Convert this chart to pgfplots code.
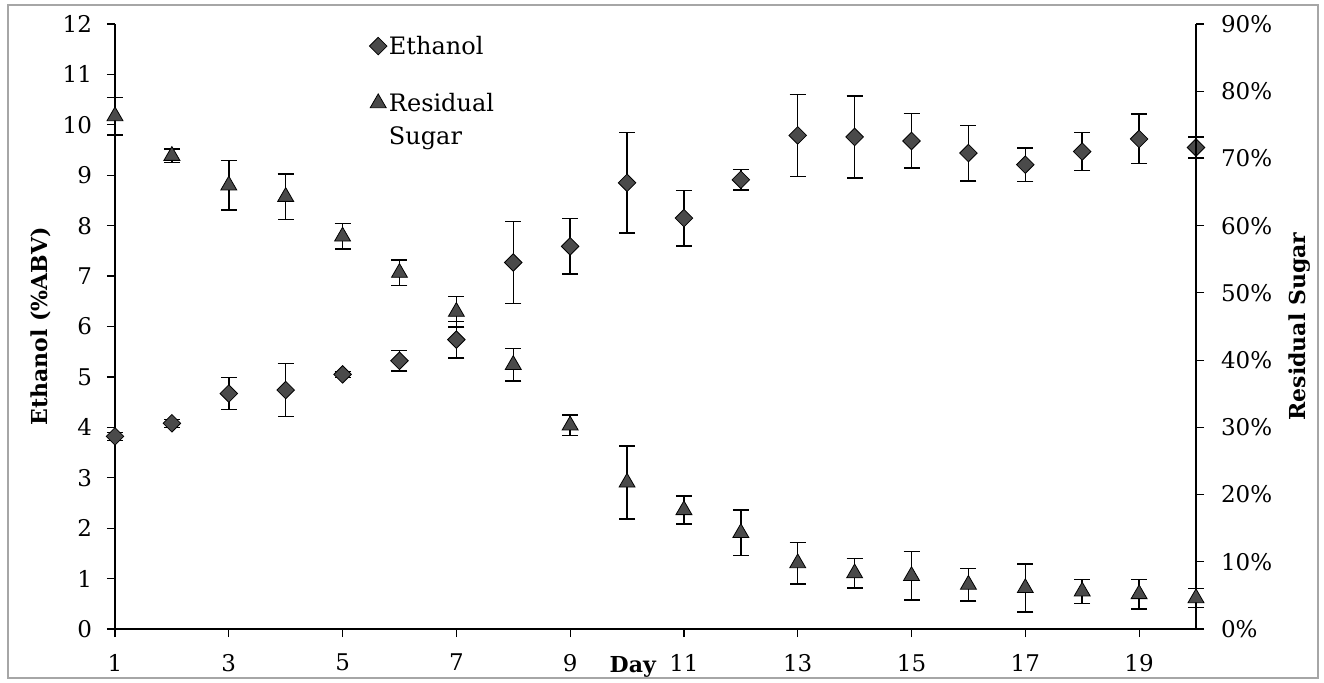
\documentclass[border=0pt]{standalone}
\usepackage{pgfplots}
\pgfplotsset{compat=1.18}
\usepackage{pgfplotstable}
\usepackage{fontspec}
\setmainfont{DejaVu Serif}

% day, mean, error
\pgfplotstableread{
day ethanol err
1  3.82 0.08
2  4.08 0.08
3  4.67 0.32
4  4.74 0.53
5  5.05 0.06
6  5.32 0.20
7  5.74 0.36
8  7.27 0.81
9  7.59 0.55
10 8.85 1.00
11 8.15 0.55
12 8.91 0.20
13 9.79 0.81
14 9.76 0.81
15 9.68 0.54
16 9.44 0.55
17 9.21 0.33
18 9.47 0.38
19 9.72 0.49
20 9.55 0.21
}\ethanoldata

\pgfplotstableread{
day sugar err
1  76.3 2.8
2  70.4 1.0
3  66.0 3.7
4  64.3 3.4
5  58.4 1.9
6  53.0 1.9
7  47.2 2.3
8  39.3 2.4
9  30.3 1.5
10 21.8 5.4
11 17.7 2.1
12 14.3 3.4
13  9.8 3.1
14  8.3 2.2
15  7.9 3.6
16  6.6 2.4
17  6.1 3.6
18  5.6 1.8
19  5.2 2.2
20  4.6 1.4
}\sugardata

\definecolor{markfill}{HTML}{4A4A4A}

\pgfplotsset{
  common/.style={
    scale only axis,
    width=540.5pt, height=302.5pt,
    xmin=1, xmax=20,
    tick align=outside,
    major tick length=4pt,
    tick style={black, line width=0.6pt},
    axis line style={black, line width=0.6pt},
    /pgf/number format/assume math mode=true,
    tick label style={font=\fontsize{11.5}{13}\selectfont},
    label style={font=\bfseries\fontsize{11}{13}\selectfont},
    clip=false,
  },
  ebar/.style={
    error bars/.cd, y dir=both, y explicit,
    error bar style={black, line width=0.75pt},
    error mark options={rotate=90, mark size=4pt, black, line width=0.75pt},
  },
  ethmark/.style={only marks, mark=square*, mark size=3.1pt,
    mark options={rotate=45, fill=markfill, draw=black, line width=0.4pt}},
  sugmark/.style={only marks, mark=triangle*, mark size=4.6pt,
    mark options={fill=markfill, draw=black, line width=0.4pt}},
}

\begin{document}
\begin{tikzpicture}
\useasboundingbox (-57.5pt,-26.5pt) rectangle (604.5pt,314.5pt);
\draw[gray!70, line width=1pt] (-53.5pt,-24.5pt) rectangle (601.5pt,312pt);

% ethanol, left axis
\begin{axis}[common,
  axis x line*=bottom, axis y line*=left,
  ymin=0, ymax=12, ytick={0,1,...,12},
  xtick={1,3,...,19},
  xticklabel style={yshift=-5pt},
  yticklabel style={xshift=-4pt},
  ylabel={Ethanol (\%ABV)},
  ylabel style={at={(axis description cs:-0.069,0.5)}, anchor=center},
  xlabel={Day},
  xlabel style={at={(axis description cs:0.479,0)}, anchor=base, yshift=-21.5pt},
]
\addplot[ethmark, ebar] table[x=day, y=ethanol, y error=err] {\ethanoldata};
\end{axis}

% residual sugar, right axis
\begin{axis}[common,
  axis x line=none, axis y line*=right,
  ymin=0, ymax=90, ytick={0,10,...,90},
  yticklabel={\pgfmathprintnumber{\tick}\%},
  yticklabel style={xshift=5pt},
  ylabel={Residual Sugar},
  ylabel style={at={(axis description cs:1.096,0.5)}, anchor=center},
  legend style={draw=none, fill=none, at={(axis description cs:0.235,1.023)},
    anchor=north west, font=\fontsize{12}{14.5}\selectfont,
    cells={anchor=west}, row sep=0pt,
    nodes={inner sep=1pt, text depth=, text height=},
    inner sep=0pt},
  legend image code/.code={\draw[#1] plot coordinates {(0pt,0pt)};},
]
% struts keep each mark centred on the first line of its entry
\addlegendimage{ethmark}
\addlegendentry{\rule[-12.6pt]{0pt}{33.6pt}Ethanol}
\addplot[sugmark, ebar] table[x=day, y=sugar, y error=err] {\sugardata};
\addlegendentry{\rule[-5.5pt]{0pt}{19.4pt}Residual}
\addlegendimage{empty legend}
\addlegendentry{\rule[-4pt]{0pt}{13pt}Sugar}
\end{axis}
\end{tikzpicture}
\end{document}
